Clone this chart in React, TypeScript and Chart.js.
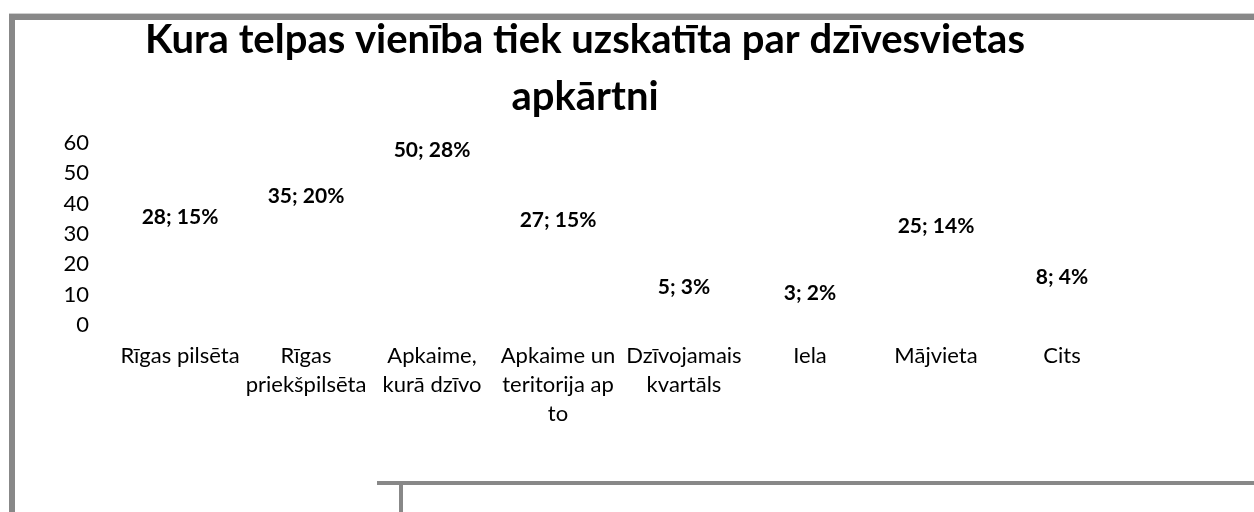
import React, { useEffect, useRef } from "react";
import { Chart, registerables } from "chart.js";

Chart.register(...registerables);

const TITLE_LINES = ["Kura telpas vienība tiek uzskatīta par dzīvesvietas", "apkārtni"];
const CATEGORIES = [
  ["Rīgas pilsēta"],
  ["Rīgas", "priekšpilsēta"],
  ["Apkaime,", "kurā dzīvo"],
  ["Apkaime un", "teritorija ap", "to"],
  ["Dzīvojamais", "kvartāls"],
  ["Iela"],
  ["Mājvieta"],
  ["Cits"],
];
const COUNTS = [28, 35, 50, 27, 5, 3, 25, 8];
const PERCENTS = [15, 20, 28, 15, 3, 2, 14, 4];
const Y_MIN = 0;
const Y_MAX = 60;
const Y_STEP = 10;

const W = 1254;
const H = 512;
const FONT = "Lato, 'Open Sans', sans-serif";

const labelPlugin = {
  id: "valueLabels",
  afterDatasetsDraw(chart: any) {
    const ctx = chart.ctx;
    const meta = chart.getDatasetMeta(0);
    ctx.save();
    ctx.font = `bold 21px ${FONT}`;
    ctx.fillStyle = "#000";
    ctx.textAlign = "center";
    ctx.textBaseline = "middle";
    meta.data.forEach((bar: any, i: number) => {
      const { x, y } = bar.getProps(["x", "y"], true);
      ctx.fillText(`${COUNTS[i]}; ${PERCENTS[i]}%`, x, y - 23);
    });
    ctx.restore();
  },
};

export default function App() {
  const ref = useRef<HTMLCanvasElement | null>(null);

  useEffect(() => {
    if (!ref.current) return;
    const chart = new Chart(ref.current, {
      type: "bar",
      data: {
        labels: CATEGORIES,
        datasets: [
          {
            data: COUNTS,
            backgroundColor: "rgba(0,0,0,0)",
            borderWidth: 0,
          },
        ],
      },
      options: {
        responsive: false,
        animation: false,
        layout: { padding: { left: 45, right: W - 1125, top: 0, bottom: 0 } },
        plugins: {
          legend: { display: false },
          tooltip: { enabled: false },
          title: {
            display: true,
            text: TITLE_LINES,
            color: "#000",
            font: { family: FONT, size: 40, weight: "bold", lineHeight: 57 / 40 },
            padding: { top: 11.5, bottom: 17.5 },
          },
        },
        scales: {
          x: {
            grid: { display: false, drawTicks: false },
            border: { display: false },
            ticks: {
              color: "#000",
              font: { family: FONT, size: 22, lineHeight: 29 / 22 },
              padding: 16,
              maxRotation: 0,
              autoSkip: false,
            },
            afterFit: (s: any) => {
              s.height = H - 325;
            },
          },
          y: {
            min: Y_MIN,
            max: Y_MAX,
            grid: { display: false, drawTicks: false },
            border: { display: false },
            ticks: {
              stepSize: Y_STEP,
              color: "#000",
              font: { family: FONT, size: 22 },
              padding: 28,
            },
            afterFit: (s: any) => {
              s.width = 72;
            },
          },
        },
      } as any,
      plugins: [labelPlugin],
    });
    return () => chart.destroy();
  }, []);

  return (
    <div
      style={{
        position: "fixed",
        left: 0,
        top: 0,
        width: W,
        height: H,
        overflow: "hidden",
        background: "#fff",
      }}
    >
      <div
        style={{
          position: "absolute",
          left: 9,
          top: 14,
          width: 1400,
          height: 700,
          borderLeft: "6px solid #888",
          borderTop: "6px solid #888",
          boxShadow: "0 -1px 0 #cfcfcf",
        }}
      />
      <div
        style={{
          position: "absolute",
          left: 377,
          top: 481,
          width: 1000,
          height: 4,
          background: "#888",
        }}
      />
      <div
        style={{
          position: "absolute",
          left: 399,
          top: 485,
          width: 4,
          height: 40,
          background: "#888",
        }}
      />
      <canvas
        ref={ref}
        width={W}
        height={H}
        style={{ position: "absolute", left: 0, top: 0, display: "block" }}
      />
    </div>
  );
}
